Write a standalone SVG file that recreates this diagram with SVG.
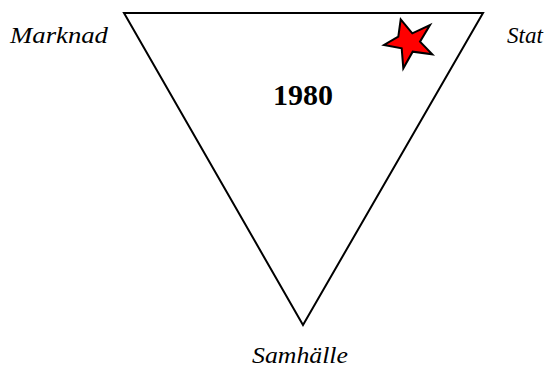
<svg xmlns="http://www.w3.org/2000/svg" width="551" height="372" viewBox="0 0 551 372">
<style>
.lbl{font-family:"Liberation Serif",serif;font-style:italic;font-size:23px;fill:#000}
.yr{font-family:"Liberation Serif",serif;font-weight:bold;font-size:30px;fill:#000}
</style>
<rect width="551" height="372" fill="#fff"/>
<g id="triangle">
<polygon points="124,13 483,13 303,325" fill="none" stroke="#000" stroke-width="2"/>
</g>
<g id="star">
<polygon points="400.7,19.3 412.3,33.3 430,25 420,41.7 432.3,54.3 412.7,51.7 403.3,68.3 401.7,48.3 384,45 398.3,36.7" fill="#ff0000" stroke="#000" stroke-width="2" stroke-linejoin="miter"/>
</g>
<g id="marknad"><text class="lbl" x="10" y="43" textLength="98" lengthAdjust="spacingAndGlyphs">Marknad</text></g>
<g id="stat"><text class="lbl" x="507" y="43">Stat</text></g>
<g id="samhalle"><text class="lbl" x="252" y="363" textLength="96" lengthAdjust="spacingAndGlyphs">Samhälle</text></g>
<g id="year"><text class="yr" x="273" y="105">1980</text></g>
</svg>
